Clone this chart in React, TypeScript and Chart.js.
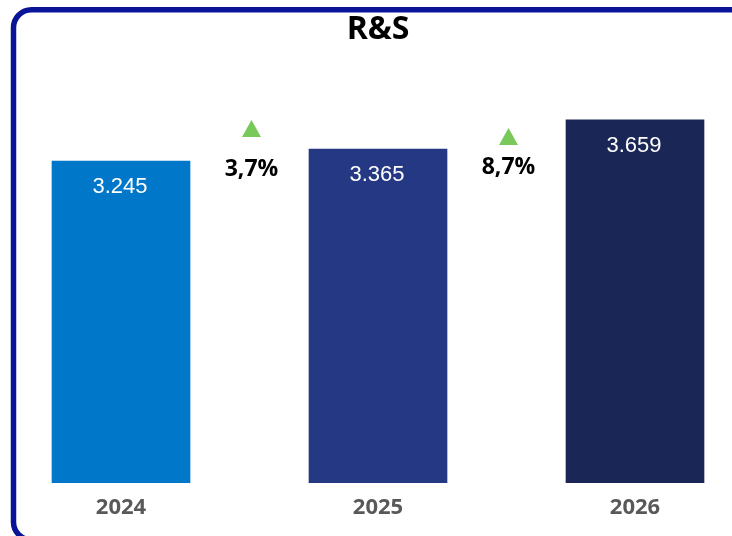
import React, { useEffect, useRef } from "react";
import { Chart, registerables } from "chart.js";

Chart.register(...registerables);

const categories = ["2024", "2025", "2026"];
const values = [3245, 3365, 3659];
const barColors = ["#0077C8", "#243884", "#1A2656"];
const changeLabels = ["3,7%", "8,7%"];
const title = "R&S";

const fmt = (v: number) => {
  const s = Math.round(v).toString();
  return s.replace(/\B(?=(\d{3})+(?!\d))/g, ".");
};

const SHIFT = 40;

const borderPlugin = {
  id: "frame",
  afterDraw(chart: any) {
    const ctx = chart.ctx;
    ctx.save();
    ctx.strokeStyle = "#0a1496";
    ctx.lineWidth = 5.5;
    ctx.beginPath();
    (ctx as any).roundRect(13.5 + SHIFT, 9.7, 900, 530.3, 18);
    ctx.stroke();
    ctx.restore();
  },
};

const labelPlugin = {
  id: "labels",
  afterDatasetsDraw(chart: any) {
    const ctx = chart.ctx;
    const meta = chart.getDatasetMeta(0);
    ctx.save();
    ctx.font = "22px 'Liberation Sans', Arial, sans-serif";
    ctx.fillStyle = "#ffffff";
    ctx.textAlign = "center";
    ctx.textBaseline = "middle";
    meta.data.forEach((bar: any, i: number) => {
      ctx.fillText(fmt(values[i]), bar.x - 1, bar.y + 26);
    });
    const xs = chart.scales.x;
    const triTops = [120, 128];
    const textYs = [169, 167];
    changeLabels.forEach((lab, i) => {
      const x = (xs.getPixelForValue(i) + xs.getPixelForValue(i + 1)) / 2 + 2;
      const t = triTops[i];
      ctx.fillStyle = "#78c85a";
      ctx.beginPath();
      ctx.moveTo(x, t);
      ctx.lineTo(x + 9.5, t + 17);
      ctx.lineTo(x - 9.5, t + 17);
      ctx.closePath();
      ctx.fill();
      ctx.fillStyle = "#000000";
      ctx.font = "bold 23px 'Open Sans', sans-serif";
      ctx.fillText(lab, x, textYs[i]);
    });
    ctx.restore();
  },
};

export default function App() {
  const ref = useRef<HTMLCanvasElement | null>(null);
  useEffect(() => {
    if (!ref.current) return;
    const chart = new Chart(ref.current, {
      type: "bar",
      data: {
        labels: categories,
        datasets: [
          {
            data: values,
            backgroundColor: barColors,
            barThickness: 138,
          },
        ],
      },
      options: {
        animation: false,
        responsive: false,
        devicePixelRatio: 1,
        layout: { padding: { left: 32.5, right: 32.5, top: 0, bottom: 2.6 } },
        plugins: {
          legend: { display: false },
          tooltip: { enabled: false },
          title: {
            display: true,
            text: title,
            color: "#000000",
            font: { family: "'Open Sans', sans-serif", size: 32, weight: "bold" },
            padding: { top: 10.8, bottom: 7.1 },
          },
        },
        scales: {
          x: {
            grid: { display: false, drawTicks: false },
            border: { display: false },
            ticks: {
              color: "#595959",
              padding: 12,
              font: { family: "'Open Sans', sans-serif", size: 22, weight: "bold" },
            },
          },
          y: { display: false, min: 0, max: 4300 },
        },
      },
      plugins: [labelPlugin, borderPlugin],
    });
    return () => chart.destroy();
  }, []);
  return (
    <div
      style={{
        position: "fixed",
        left: 0,
        top: 0,
        width: 732,
        height: 536,
        overflow: "hidden",
        background: "#fff",
      }}
    >
      <div style={{ position: "absolute", left: -SHIFT, top: 0, width: 836, height: 536 }}>
        <canvas ref={ref} width={836} height={536} style={{ display: "block" }} />
      </div>
    </div>
  );
}
